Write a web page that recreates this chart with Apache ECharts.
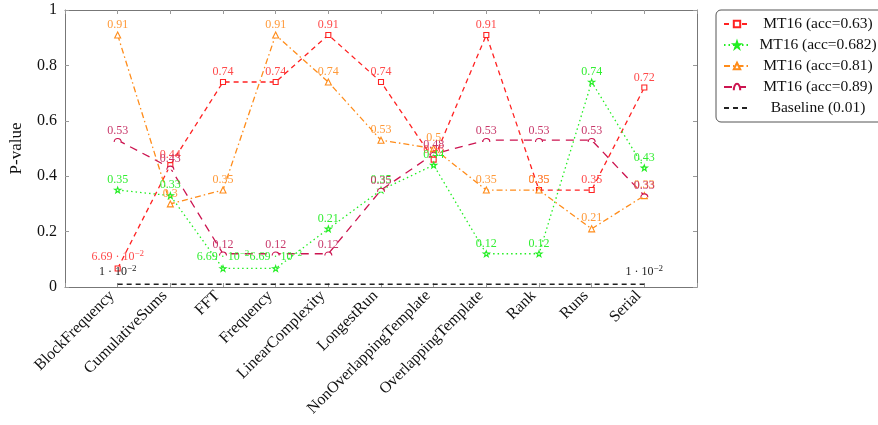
<!DOCTYPE html>
<html><head><meta charset="utf-8">
<script src="https://cdn.jsdelivr.net/npm/echarts@6/dist/echarts.min.js"></script>
<style>html,body{margin:0;padding:0;background:#fff}#c{width:878px;height:425px}</style>
</head><body><div id="c"></div>
<script>
const categories = ['BlockFrequency','CumulativeSums','FFT','Frequency','LinearComplexity','LongestRun','NonOverlappingTemplate','OverlappingTemplate','Rank','Runs','Serial'];
const mt063 = [0.0669, 0.44, 0.74, 0.74, 0.91, 0.74, 0.46, 0.91, 0.35, 0.35, 0.72];
const mt0682 = [0.35, 0.33, 0.0669, 0.0669, 0.21, 0.35, 0.44, 0.12, 0.12, 0.74, 0.43];
const mt081 = [0.91, 0.3, 0.35, 0.91, 0.74, 0.53, 0.5, 0.35, 0.35, 0.21, 0.33];
const mt089 = [0.53, 0.43, 0.12, 0.12, 0.12, 0.35, 0.48, 0.53, 0.53, 0.53, 0.33];
const baseline = [0.01, 0.01, 0.01, 0.01, 0.01, 0.01, 0.01, 0.01, 0.01, 0.01, 0.01];
const yTicks = [0, 0.2, 0.4, 0.6, 0.8, 1];

const serif = 'Liberation Serif';
function fmt(v){
  if (v < 0.1) {
    const e = v.toExponential(2).split('e');
    const m = parseFloat(e[0]);
    const ex = parseInt(e[1], 10);
    return m + ' · 10{sup|' + (ex < 0 ? '−' + (-ex) : ex) + '}';
  }
  return String(v);
}
const starPath = 'path://M10,0 L12.4,7 L20,7 L13.8,11.5 L16.2,19 L10,14.4 L3.8,19 L6.2,11.5 L0,7 L7.6,7 Z';
const halfPath = 'path://M0,10 A10,10 0 0 1 20,10';

function mk(name, vals, color, lblColor, dash, symbol, size, onlyEnds, dist, hideSym){
  return {
    name, type:'line', xAxisIndex:0, yAxisIndex:0,
    data: vals.map((v,i)=>({value:[i,v], label:{show: onlyEnds ? (i===0||i===vals.length-1) : true}})),
    symbol, symbolSize:size, symbolKeepAspect:true, showSymbol:true,
    itemStyle: hideSym ? {color:'rgba(0,0,0,0)', borderColor:'rgba(0,0,0,0)', borderWidth:0}
                       : {color:'#fff', borderColor:color, borderWidth:1.1},
    lineStyle:{color, width:1.3, type:dash},
    label:{show:true, position:'top', distance:dist, color:lblColor, fontFamily:serif, fontSize:12,
      formatter:p=>fmt(p.value[1]),
      rich:{sup:{fontSize:9, verticalAlign:'top', color:lblColor, fontFamily:serif, padding:[0,0,6,0]}}},
    emphasis:{disabled:true},
    animation:false
  };
}

const chart = echarts.init(document.getElementById('c'), null, {renderer:'canvas'});
const axisGray = '#777';
const legendNames = ['MT16 (acc=0.63)','MT16 (acc=0.682)','MT16 (acc=0.81)','MT16 (acc=0.89)','Baseline (0.01)'];
chart.setOption({
  backgroundColor:'#fff',
  animation:false,
  grid:{left:64, top:10, right:181, bottom:138, containLabel:false},
  legend:{
    left:716, top:10, orient:'vertical',
    itemWidth:26, itemHeight:8, itemGap:5,
    padding:[6,8,6,7],
    borderColor:'#555', borderWidth:1, borderRadius:5,
    formatter:n=>'{c|' + n + '}',
    textStyle:{fontFamily:serif, fontSize:15.5, color:'#111',
      rich:{c:{width:126, align:'center', fontFamily:serif, fontSize:15.5, color:'#111'}}},
    data: legendNames
  },
  xAxis:[{
    type:'value', min:-1, max:11, interval:1, position:'bottom',
    axisLine:{show:true, onZero:false, lineStyle:{color:axisGray}},
    axisTick:{show:true, inside:true, length:4, lineStyle:{color:'#999'}},
    splitLine:{show:false},
    axisLabel:{rotate:45, fontFamily:serif, fontSize:16, color:'#111', margin:12, verticalAlign:'bottom',
      showMinLabel:true, showMaxLabel:true,
      formatter:v=> (v>=0 && v<categories.length && Number.isInteger(v)) ? categories[v] : ''}
  },{
    type:'value', min:-1, max:11, interval:1, position:'top',
    axisLine:{show:true, onZero:false, lineStyle:{color:axisGray}},
    axisTick:{show:true, inside:true, length:4, lineStyle:{color:'#999'}},
    axisLabel:{show:false}, splitLine:{show:false}
  }],
  yAxis:[{
    type:'value', min:yTicks[0], max:yTicks[yTicks.length-1], interval:0.2, position:'left',
    name:'P-value', nameLocation:'middle', nameGap:40, nameRotate:90,
    nameTextStyle:{fontFamily:serif, fontSize:17, color:'#111'},
    axisLine:{show:true, onZero:false, lineStyle:{color:axisGray}},
    axisTick:{show:true, inside:true, length:4, lineStyle:{color:'#999'}},
    splitLine:{show:false},
    axisLabel:{fontFamily:serif, fontSize:16, color:'#111', margin:8,
      formatter:v=> (v===0||v===1) ? String(v) : v.toFixed(1)}
  },{
    type:'value', min:yTicks[0], max:yTicks[yTicks.length-1], interval:0.2, position:'right',
    axisLine:{show:true, onZero:false, lineStyle:{color:axisGray}},
    axisTick:{show:true, inside:true, length:4, lineStyle:{color:'#999'}},
    axisLabel:{show:false}, splitLine:{show:false}
  }],
  series:[
    mk('MT16 (acc=0.63)', mt063, '#ff2222', '#ff4a4a', [5,4], 'rect', 5, false, 1, false),
    mk('MT16 (acc=0.682)', mt0682, '#22ee22', '#33ee33', [1.5,3], starPath, 6, false, 1, false),
    mk('MT16 (acc=0.81)', mt081, '#ff8c1a', '#ff9a3a', [6,3,1.5,3], 'triangle', 6, false, 1, false),
    mk('MT16 (acc=0.89)', mt089, '#cc1450', '#c8386a', [8,6], halfPath, 7, false, 1, false),
    mk('Baseline (0.01)', baseline, '#222', '#222', [5,4], 'circle', 2, true, 4, true)
  ]
});
</script></body></html>
